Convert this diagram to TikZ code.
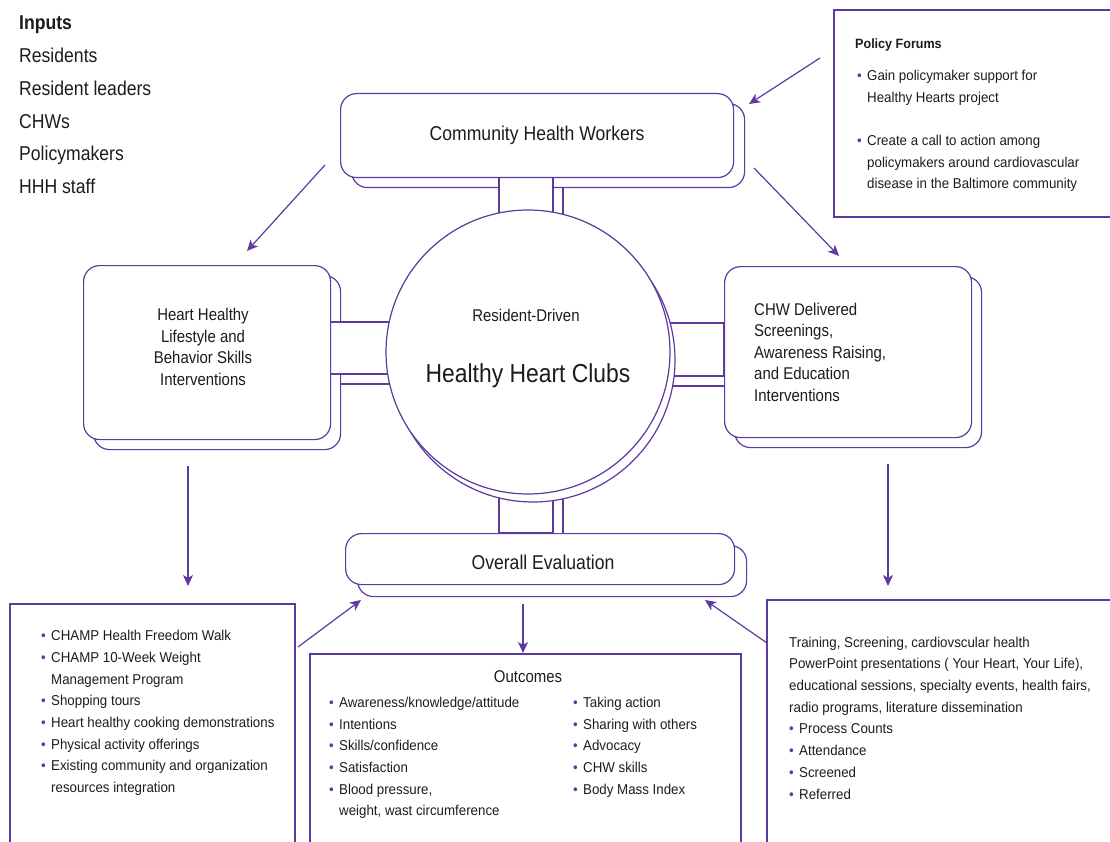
\documentclass[tikz,border=0pt]{standalone}
\usepackage{fontspec}
\setmainfont{Liberation Sans}[FakeStretch=0.88]
\newfontfamily\listfam{Liberation Sans}[FakeStretch=0.93]
\usetikzlibrary{arrows.meta}
\definecolor{hp}{RGB}{92,58,158}
\definecolor{ink}{RGB}{30,27,28}
% purple bullet in a fixed-width box, and the matching indent for wrapped lines
\newcommand{\bitem}{\makebox[10pt][l]{\textcolor{hp}{\textbullet}}}
\newcommand{\bcont}{\hspace*{10pt}}
\begin{document}
\begin{tikzpicture}[x=1pt,y=-1pt,
  box/.style={draw=hp, fill=white, rounded corners=16pt, line width=1.2pt, inner sep=0pt, text=ink},
  panel/.style={draw=hp, line width=1.2pt},
  arr/.style={draw=hp, line width=1.2pt, -{Stealth[length=11pt,width=10pt,inset=3pt]}},
  txt/.style={text=ink, inner sep=0pt},
  small/.style={font=\listfam\fontsize{14.3}{21.7}\selectfont},
]
\useasboundingbox (0,0) rectangle (1110,842);

% back copies of the rounded boxes
\node[box, anchor=north west, minimum width=393pt, minimum height=84pt] (chwS) at (351,103) {};
\node[box, anchor=north west, minimum width=247pt, minimum height=174pt] (hhlS) at (93,275) {};
\node[box, anchor=north west, minimum width=247pt, minimum height=171pt] (cdS) at (734,276) {};
\node[box, anchor=north west, minimum width=389pt, minimum height=51pt] (evS) at (357,545) {};

% second outline of each bar
\draw[panel] (563,187) -- (563,352);
\draw[panel] (340,384) -- (528,384);
\draw[panel] (528,386) -- (724,386);
\draw[panel] (563,352) -- (563,533);

% bars joining the hub to the boxes
\draw[panel, fill=white] (499,170) rectangle (553,352);
\draw[panel, fill=white] (330,322) rectangle (528,374);
\draw[panel, fill=white] (528,323) rectangle (724,376);
\draw[panel, fill=white] (499,352) rectangle (553,533);

% front rounded boxes
\node[box, anchor=north west, minimum width=393pt, minimum height=84pt,
      font=\fontsize{20}{24}\selectfont] (chw) at (340,93) {Community Health Workers};
\node[box, anchor=north west, minimum width=247pt, minimum height=174pt] (hhl) at (83,265) {};
\node[box, anchor=north west, minimum width=247pt, minimum height=171pt] (cd) at (724,266) {};
\node[box, anchor=north west, minimum width=389pt, minimum height=51pt] (ev) at (345,533) {};
\node[txt, font=\fontsize{20}{24}\selectfont] (evT) at (543,562) {Overall Evaluation};

% hub circle
\node[draw=hp, fill=white, line width=1.2pt, circle, minimum size=284pt] (hhcS) at (533,360) {};
\node[draw=hp, fill=white, line width=1.2pt, circle, minimum size=284pt] (hhc) at (528,352) {};
\node[txt, font=\fontsize{17}{20}\selectfont] (rd) at (526,315) {Resident-Driven};
\node[txt, font=\fontsize{26}{32}\selectfont] (hhcT) at (528,376) {Healthy Heart Clubs};

% box texts
\node[txt, align=center, font=\fontsize{17}{21.7}\selectfont] (hhlT) at (203,347)
  {Heart Healthy\\Lifestyle and\\Behavior Skills\\Interventions};
\node[txt, anchor=west, align=left, font=\fontsize{17}{21.5}\selectfont] (cdT) at (754,352)
  {CHW Delivered\\Screenings,\\Awareness Raising,\\and Education\\Interventions};

% inputs list
\node[txt, anchor=west, align=left, font=\fontsize{20}{32.8}\selectfont] (inputs) at (19,105)
  {\textbf{Inputs}\\Residents\\Resident leaders\\CHWs\\Policymakers\\HHH staff};

% policy forums panel
\draw[panel] (1110,10) -- (834,10) -- (834,217) -- (1110,217);
\node[txt, anchor=west, font=\listfam\fontsize{13.5}{16}\selectfont\bfseries] (pfT) at (855,45) {Policy Forums};
\node[txt, anchor=west, align=left, small] (pfL) at (857,131)
  {\bitem Gain policymaker support for\\\bcont Healthy Hearts project\\[21.5pt]
   \bitem Create a call to action among\\\bcont policymakers around cardiovascular\\\bcont disease in the Baltimore community};

% lifestyle activities panel
\draw[panel] (10,842) -- (10,604) -- (295,604) -- (295,842);
\node[txt, anchor=west, align=left, small] (actL) at (41,713)
  {\bitem CHAMP Health Freedom Walk\\\bitem CHAMP 10-Week Weight\\\bcont Management Program\\
   \bitem Shopping tours\\\bitem Heart healthy cooking demonstrations\\\bitem Physical activity offerings\\
   \bitem Existing community and organization\\\bcont resources integration};

% outcomes panel
\draw[panel] (310,842) -- (310,654) -- (741,654) -- (741,842);
\node[txt, font=\fontsize{17}{20}\selectfont] (outT) at (528,677) {Outcomes};
\node[txt, anchor=west, align=left, small] (outL) at (329,758)
  {\bitem Awareness/knowledge/attitude\\\bitem Intentions\\\bitem Skills/confidence\\
   \bitem Satisfaction\\\bitem Blood pressure,\\\bcont weight, wast circumference};
\node[txt, anchor=west, align=left, small] (outR) at (573,747)
  {\bitem Taking action\\\bitem Sharing with others\\\bitem Advocacy\\\bitem CHW skills\\\bitem Body Mass Index};

% screening activities panel
\draw[panel] (1110,600) -- (767,600) -- (767,842);
\node[txt, anchor=west, align=left, small] (scrL) at (789,718)
  {Training, Screening, cardiovscular health\\PowerPoint presentations ( Your Heart, Your Life),\\
   educational sessions, specialty events, health fairs,\\radio programs, literature dissemination\\
   \bitem Process Counts\\\bitem Attendance\\\bitem Screened\\\bitem Referred};

% arrow ends
\coordinate (a1s) at (820,58);  \coordinate (a1e) at (749,104);
\coordinate (a2s) at (325,165); \coordinate (a2e) at (247,251);
\coordinate (a3s) at (754,168); \coordinate (a3e) at (839,256);
\coordinate (a4s) at (188,466); \coordinate (a4e) at (188,586);
\coordinate (a5s) at (888,464); \coordinate (a5e) at (888,586);
\coordinate (a6s) at (523,604); \coordinate (a6e) at (523,653);
\coordinate (a7s) at (298,647); \coordinate (a7e) at (361,600);
\coordinate (a8s) at (767,643); \coordinate (a8e) at (705,600);

\draw[arr] (a1s) -- (a1e);
\draw[arr] (a2s) -- (a2e);
\draw[arr] (a3s) -- (a3e);
\draw[arr] (a4s) -- (a4e);
\draw[arr] (a5s) -- (a5e);
\draw[arr] (a6s) -- (a6e);
\draw[arr] (a7s) -- (a7e);
\draw[arr] (a8s) -- (a8e);
\end{tikzpicture}
\end{document}
